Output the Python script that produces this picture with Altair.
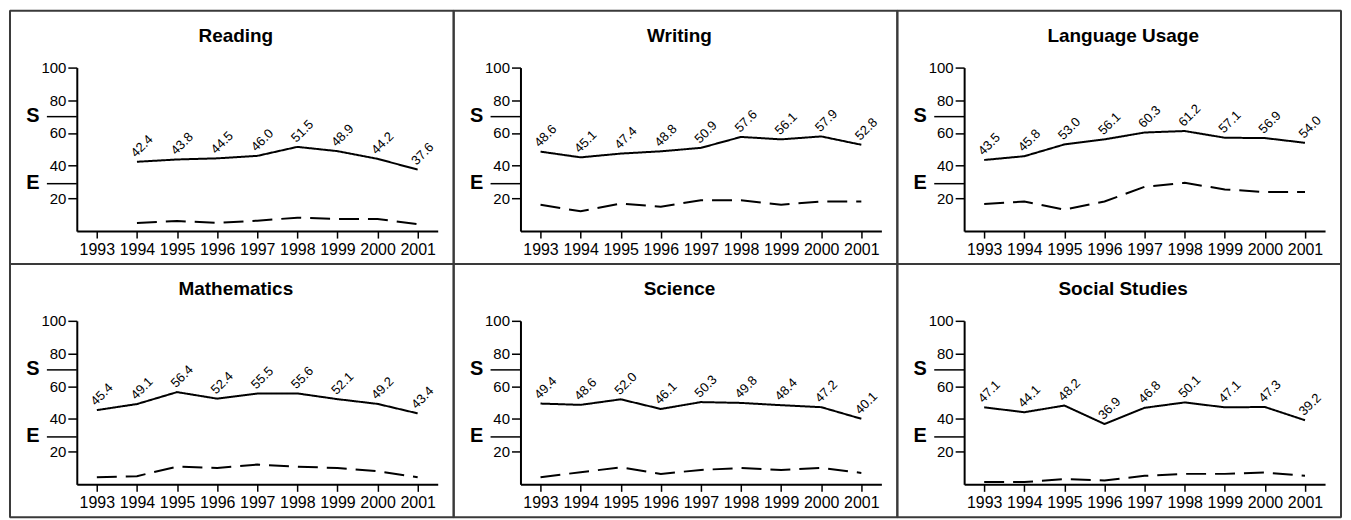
import altair as alt
import pandas as pd

years = [1993, 1994, 1995, 1996, 1997, 1998, 1999, 2000, 2001]
subjects = ["Reading", "Writing", "Language Usage", "Mathematics", "Science", "Social Studies"]

# solid line (labelled) values
reading_s = [None, 42.4, 43.8, 44.5, 46.0, 51.5, 48.9, 44.2, 37.6]
writing_s = [48.6, 45.1, 47.4, 48.8, 50.9, 57.6, 56.1, 57.9, 52.8]
language_s = [43.5, 45.8, 53.0, 56.1, 60.3, 61.2, 57.1, 56.9, 54.0]
math_s = [45.4, 49.1, 56.4, 52.4, 55.5, 55.6, 52.1, 49.2, 43.4]
science_s = [49.4, 48.6, 52.0, 46.1, 50.3, 49.8, 48.4, 47.2, 40.1]
social_s = [47.1, 44.1, 48.2, 36.9, 46.8, 50.1, 47.1, 47.3, 39.2]

# dashed line values (estimated)
reading_e = [None, 5.0, 6.2, 5.0, 6.4, 8.2, 7.4, 7.4, 4.2]
writing_e = [16.1, 12.1, 16.9, 14.9, 18.9, 18.9, 16.1, 18.1, 18.1]
language_e = [16.5, 18.1, 13.1, 18.1, 27.1, 29.5, 25.5, 23.9, 23.9]
math_e = [4.4, 5.0, 10.8, 10.0, 12.1, 10.8, 10.0, 8.0, 4.4]
science_e = [4.4, 7.4, 10.4, 6.4, 8.8, 10.0, 8.8, 10.0, 7.0]
social_e = [1.4, 1.4, 3.2, 2.4, 5.2, 6.4, 6.4, 7.2, 5.2]

marker_labels = ["S", "E"]
marker_values = [70, 29]
y_ticks = [20, 40, 60, 80, 100]

series_s = [reading_s, writing_s, language_s, math_s, science_s, social_s]
series_e = [reading_e, writing_e, language_e, math_e, science_e, social_e]

FONT = "Liberation Sans"
W, H = 445, 254          # whole panel
LEFT, TOP = 67, 57       # plot-area offset inside panel
PW, PH = 362, 164        # plot area
SW = 2                   # border line width
BCOL = "#3a3a3a"


def panel(name, s_vals, e_vals):
    rows = []
    for yr, s, e in zip(years, s_vals, e_vals):
        if s is not None:
            rows.append({"year": yr, "kind": "S", "value": s})
        if e is not None:
            rows.append({"year": yr, "kind": "E", "value": e})
    df = pd.DataFrame(rows)

    xs = alt.Scale(type="point", domain=years, padding=0.5)
    ys = alt.Scale(domain=[0, 100])

    xenc = alt.X("year:O", scale=xs,
                 axis=alt.Axis(labelAngle=0, title=None, grid=False, domainWidth=2,
                               domainColor="black", tickColor="black", tickWidth=1.5,
                               tickSize=7, labelPadding=3, labelFontSize=16,
                               labelColor="black", labelFont=FONT))
    yenc = alt.Y("value:Q", scale=ys,
                 axis=alt.Axis(values=y_ticks, title=None, grid=False, domainWidth=2,
                               domainColor="black", tickColor="black", tickWidth=1.5,
                               tickSize=9, labelPadding=2, labelFontSize=15,
                               labelColor="black", labelFont=FONT))

    base = alt.Chart(df)
    lines = base.mark_line(color="black", strokeWidth=2).encode(
        x=xenc, y=yenc,
        strokeDash=alt.StrokeDash("kind:N",
                                  scale=alt.Scale(domain=["S", "E"], range=[[1, 0], [20, 9]]),
                                  legend=None),
    )
    labels = base.transform_filter("datum.kind == 'S'").mark_text(
        angle=315, align="left", baseline="alphabetic", dx=2, dy=-3.5,
        fontSize=13, font=FONT, color="black",
    ).encode(x=xenc, y=yenc, text=alt.Text("value:Q", format=".1f"))

    mdf = pd.DataFrame({"m": marker_labels, "value": marker_values})
    mrules = alt.Chart(mdf).mark_rule(color="black", strokeWidth=1.5).encode(
        y=yenc, x=alt.value(-30), x2=alt.value(0))
    mtext = alt.Chart(mdf).mark_text(fontSize=20, fontWeight="bold", font=FONT,
                                     align="center", baseline="middle", dy=-1,
                                     color="black").encode(
        y=yenc, x=alt.value(-44), text="m:N")

    tdf = pd.DataFrame({"t": [name]})
    title = alt.Chart(tdf).mark_text(fontSize=19, fontWeight="bold", font=FONT,
                                     align="center", baseline="alphabetic",
                                     color="black").encode(
        text="t:N", x=alt.value(W / 2 + 4 - LEFT), y=alt.value(-26))

    border = alt.Chart(tdf).mark_rect(fillOpacity=0, stroke=BCOL, strokeWidth=SW,
                                      strokeJoin="bevel").encode(
        x=alt.value(-LEFT), x2=alt.value(W - LEFT), y=alt.value(-TOP), y2=alt.value(H - TOP))

    return alt.layer(lines, labels, mrules, mtext, title, border).properties(
        width=PW, height=PH)


panels = [panel(n, s, e) for n, s, e in zip(subjects, series_s, series_e)]
chart = alt.concat(*panels, columns=3, bounds="flush",
                   spacing=alt.RowColnumber(row=H - PH, column=W - PW)).configure_view(
    stroke="transparent").properties(padding=0, background="white")

chart.save("out.html", embed_options={"renderer": "svg", "actions": False})
